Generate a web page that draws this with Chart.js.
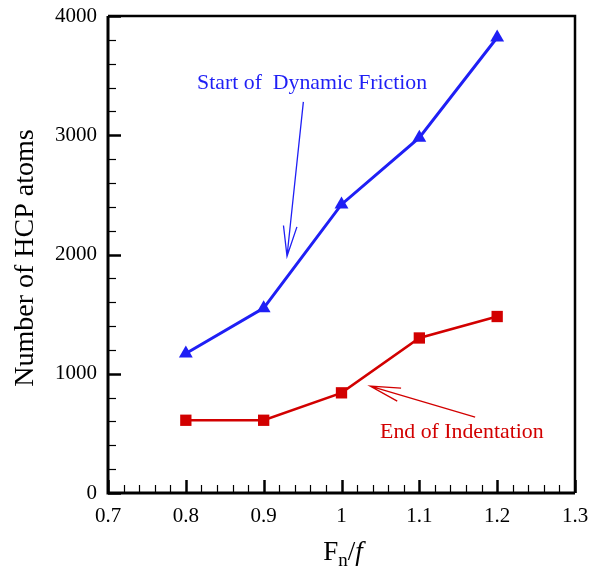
<!DOCTYPE html>
<html>
<head>
<meta charset="utf-8">
<script src="https://cdn.jsdelivr.net/npm/chart.js@4"></script>
<style>
  html, body { margin: 0; padding: 0; background: #fff; }
  #wrap { width: 598px; height: 570px; }
</style>
</head>
<body>
<div id="wrap"><canvas id="hcpChart" width="598" height="570"></canvas></div>
<script>
// normalised load F_n/f and HCP atom counts
const loadRatios = [0.8, 0.9, 1.0, 1.1, 1.2];
const startOfFriction = [1170, 1550, 2420, 2980, 3820];
const endOfIndentation = [610, 610, 840, 1300, 1480];
const xTicks = [0.7, 0.8, 0.9, 1.0, 1.1, 1.2, 1.3];
const yTicks = [0, 1000, 2000, 3000, 4000];

const BLUE = '#1f1ff5';
const RED = '#d20000';
const SERIF = '"Liberation Serif", "Times New Roman", serif';

// callouts: text anchor and arrow tail/tip, in data units
const notes = [
    { text: 'Start of  Dynamic Friction', color: BLUE, tx: 0.8145, ty: 3440,
      from: [0.951, 3280], to: [0.930, 1985] },
    { text: 'End of Indentation', color: RED, tx: 1.0496, ty: 510,
      from: [1.1717, 637], to: [1.0368, 897] }
];

function drawArrow(ctx, x0, y0, x1, y1) {
    const ang = Math.atan2(y1 - y0, x1 - x0);
    const len = 31, spread = 0.22;
    ctx.beginPath();
    ctx.moveTo(x0, y0);
    ctx.lineTo(x1, y1);
    ctx.moveTo(x1 - len * Math.cos(ang - spread), y1 - len * Math.sin(ang - spread));
    ctx.lineTo(x1, y1);
    ctx.lineTo(x1 - len * Math.cos(ang + spread), y1 - len * Math.sin(ang + spread));
    ctx.stroke();
}

// box frame, inward major/minor ticks and axis titles
const frameAxes = {
    id: 'frameAxes',
    afterDatasetsDraw(chart) {
        const { ctx, chartArea: a, scales: { x, y } } = chart;
        ctx.save();
        ctx.strokeStyle = '#000';
        ctx.lineCap = 'butt';

        for (let v = 0; v <= 4000; v += 200) {
            const py = Math.round(y.getPixelForValue(v)) + 0.5;
            const major = v % 1000 === 0;
            ctx.lineWidth = major ? 2.5 : 1.2;
            ctx.beginPath();
            ctx.moveTo(a.left, py);
            ctx.lineTo(a.left + (major ? 13 : 8), py);
            ctx.stroke();
        }
        for (let i = 0; i <= 30; i++) {
            const px = Math.round(x.getPixelForValue(0.7 + i * 0.02)) + 0.5;
            const major = i % 5 === 0;
            ctx.lineWidth = major ? 2.5 : 1.2;
            ctx.beginPath();
            ctx.moveTo(px, a.bottom);
            ctx.lineTo(px, a.bottom - (major ? 13 : 8));
            ctx.stroke();
        }

        ctx.lineWidth = 3;
        ctx.beginPath();
        ctx.moveTo(a.left, a.top);
        ctx.lineTo(a.left, a.bottom);
        ctx.lineTo(a.right, a.bottom);
        ctx.stroke();
        ctx.lineWidth = 2.5;
        ctx.beginPath();
        ctx.moveTo(a.left, a.top);
        ctx.lineTo(a.right, a.top);
        ctx.lineTo(a.right, a.bottom);
        ctx.stroke();

        // y title
        ctx.fillStyle = '#000';
        ctx.font = '28px ' + SERIF;
        ctx.textAlign = 'center';
        ctx.textBaseline = 'middle';
        ctx.save();
        ctx.translate(26, 258);
        ctx.rotate(-Math.PI / 2);
        ctx.fillText('Number of HCP atoms', 0, 0);
        ctx.restore();

        // x title: F with subscript n, slash, italic f
        ctx.textAlign = 'left';
        ctx.textBaseline = 'alphabetic';
        const base = 560;
        const partF = 'F', partN = 'n', partS = '/', partI = 'f';
        ctx.font = '27px ' + SERIF;
        const wF = ctx.measureText(partF).width;
        const wS = ctx.measureText(partS).width;
        ctx.font = '19px ' + SERIF;
        const wN = ctx.measureText(partN).width;
        ctx.font = 'italic 27px ' + SERIF;
        const wI = ctx.measureText(partI).width;
        let cx = 343 - (wF + wN + wS + wI) / 2;
        ctx.font = '27px ' + SERIF;
        ctx.fillText(partF, cx, base);
        cx += wF;
        ctx.font = '19px ' + SERIF;
        ctx.fillText(partN, cx, base + 6);
        cx += wN;
        ctx.font = '27px ' + SERIF;
        ctx.fillText(partS, cx, base);
        cx += wS;
        ctx.font = 'italic 27px ' + SERIF;
        ctx.fillText(partI, cx, base);

        // callouts
        ctx.font = '21.8px ' + SERIF;
        ctx.textBaseline = 'middle';
        ctx.lineWidth = 1.3;
        notes.forEach(n => {
            ctx.fillStyle = n.color;
            ctx.strokeStyle = n.color;
            ctx.fillText(n.text, x.getPixelForValue(n.tx), y.getPixelForValue(n.ty));
            drawArrow(ctx,
                x.getPixelForValue(n.from[0]), y.getPixelForValue(n.from[1]),
                x.getPixelForValue(n.to[0]), y.getPixelForValue(n.to[1]));
        });
        ctx.restore();
    }
};

const toPoints = vals => loadRatios.map((r, i) => ({ x: r, y: vals[i] }));

new Chart(document.getElementById('hcpChart'), {
    type: 'scatter',
    data: {
        datasets: [
            {
                label: 'End of Indentation',
                data: toPoints(endOfIndentation),
                showLine: true,
                borderColor: RED,
                backgroundColor: RED,
                borderWidth: 2.5,
                pointStyle: 'rect',
                pointRadius: 8,
                pointHoverRadius: 8,
                pointBorderWidth: 0
            },
            {
                label: 'Start of Dynamic Friction',
                data: toPoints(startOfFriction),
                showLine: true,
                borderColor: BLUE,
                backgroundColor: BLUE,
                borderWidth: 3,
                pointStyle: 'triangle',
                pointRadius: 8,
                pointHoverRadius: 8,
                pointBorderWidth: 0
            }
        ]
    },
    options: {
        responsive: false,
        animation: false,
        layout: { padding: { top: 16, right: 23, left: 0, bottom: 0 } },
        plugins: {
            legend: { display: false },
            tooltip: { enabled: false }
        },
        scales: {
            x: {
                type: 'linear',
                min: 0.7,
                max: 1.3,
                afterBuildTicks: s => { s.ticks = xTicks.map(v => ({ value: v })); },
                afterFit: s => { s.height = 77; s.paddingLeft = 0; s.paddingRight = 0; },
                grid: { display: false, drawTicks: false },
                border: { display: false },
                ticks: {
                    padding: 11,
                    color: '#000',
                    font: { family: SERIF, size: 21 },
                    callback: v => String(+v.toFixed(1))
                }
            },
            y: {
                type: 'linear',
                min: 0,
                max: 4000,
                afterBuildTicks: s => { s.ticks = yTicks.map(v => ({ value: v })); },
                afterFit: s => { s.width = 108; s.paddingTop = 0; s.paddingBottom = 0; },
                grid: { display: false, drawTicks: false },
                border: { display: false },
                ticks: {
                    padding: 11,
                    color: '#000',
                    font: { family: SERIF, size: 21 },
                    callback: v => String(v)
                }
            }
        }
    },
    plugins: [frameAxes]
});
</script>
</body>
</html>
